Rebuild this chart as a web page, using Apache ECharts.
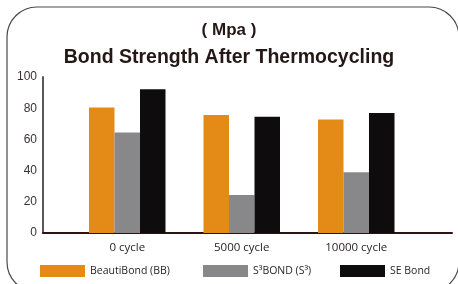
<!DOCTYPE html>
<html>
<head>
<meta charset="utf-8">
<style>
  html, body { margin: 0; padding: 0; background: #fff; }
  #chart { width: 458px; height: 284px; }
</style>
<script src="https://cdn.jsdelivr.net/npm/echarts@6/dist/echarts.min.js"></script>
</head>
<body>
<div id="chart"></div>
<script>
// data
const categories = ['0 cycle', '5000 cycle', '10000 cycle'];
const seriesNames = ['BeautiBond (BB)', 'S³BOND (S³)', 'SE Bond'];
const bbValues = [80.5, 75.6, 72.7];
const s3Values = [64.4, 24.3, 38.9];
const seValues = [92.1, 74.5, 76.9];
const yTicks = [0, 20, 40, 60, 80, 100];

const colors = ['#e38a17', '#88878a', '#0e0c0c'];

const chart = echarts.init(document.getElementById('chart'));

const barConfig = {
  type: 'bar',
  barWidth: 25.5,
  barGap: '0%',
  xAxisIndex: 0,
  yAxisIndex: 0
};

const legendText = {
  fontFamily: 'Open Sans',
  fontSize: 10.5,
  color: '#2a2426'
};

chart.setOption({
  color: colors,
  backgroundColor: '#fff',
  animation: false,
  // rounded frame
  graphic: [{
    type: 'rect',
    shape: { x: 7, y: 7, width: 452, height: 285, r: 30 },
    style: { fill: 'none', stroke: '#4a4a4a', lineWidth: 1.2 },
    silent: true
  }],
  title: [
    {
      text: '( Mpa )',
      left: 'center',
      top: 17,
      textStyle: { fontFamily: 'Liberation Sans', fontWeight: 'bold', fontSize: 17, color: '#231815' }
    },
    {
      text: 'Bond Strength After Thermocycling',
      left: 'center',
      top: 43,
      textStyle: { fontFamily: 'Liberation Sans', fontWeight: 'bold', fontSize: 19.5, color: '#231815' }
    }
  ],
  legend: seriesNames.map((name, i) => ({
    data: [name],
    left: [40, 203, 340][i],
    top: 265,
    padding: 0,
    itemWidth: 45,
    itemHeight: 12,
    icon: 'rect',
    textStyle: legendText
  })),
  grid: [
    // bars
    { left: 70, right: 44.5, top: 77, bottom: 51 },
    // long x-axis line
    { left: 43, right: 6, top: 77, bottom: 51 }
  ],
  xAxis: [
    {
      type: 'category',
      gridIndex: 0,
      data: categories,
      axisLine: { show: false },
      axisTick: { show: false },
      axisLabel: { margin: 9, fontFamily: 'Open Sans', fontSize: 11.5, color: '#2a2426' }
    },
    {
      type: 'category',
      gridIndex: 1,
      data: [],
      axisLine: { lineStyle: { color: '#2a1512', width: 2 } },
      axisTick: { show: false },
      axisLabel: { show: false }
    }
  ],
  yAxis: [
    {
      type: 'value',
      gridIndex: 0,
      min: yTicks[0],
      max: yTicks[yTicks.length - 1],
      interval: 20,
      offset: 27,
      axisLine: { show: true, lineStyle: { color: '#58585a', width: 2 } },
      axisTick: { show: false },
      splitLine: { show: false },
      axisLabel: { margin: 6, fontFamily: 'Liberation Sans', fontSize: 12, color: '#3a3032' }
    },
    {
      type: 'value',
      gridIndex: 1,
      show: false
    }
  ],
  series: [
    { ...barConfig, name: seriesNames[0], data: bbValues },
    { ...barConfig, name: seriesNames[1], data: s3Values },
    { ...barConfig, name: seriesNames[2], data: seValues }
  ]
});
</script>
</body>
</html>
